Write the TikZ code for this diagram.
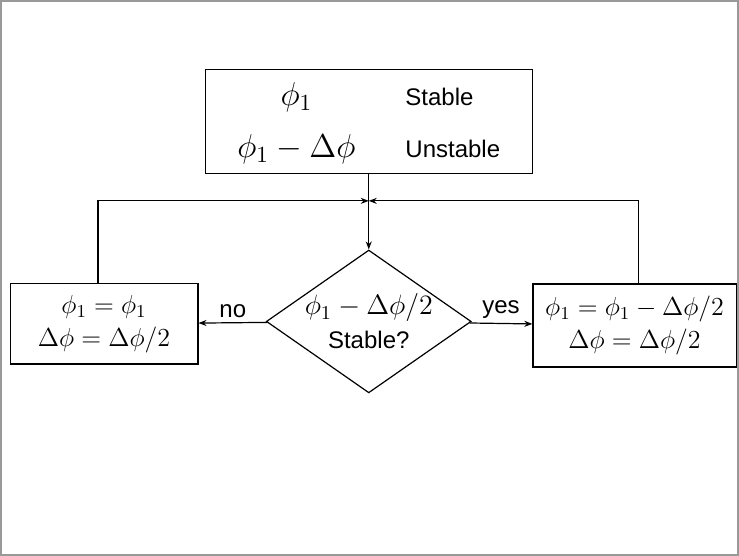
\RequirePackage{fix-cm}
\documentclass[tikz,border=0pt]{standalone}
\usepackage{fontspec}
\setsansfont{Liberation Sans}
\usepackage{amsmath}
\usetikzlibrary{arrows.meta, shapes.geometric}

\begin{document}
\begin{tikzpicture}[>={Stealth[length=4pt,width=3pt]}, line width=0.6pt,
  box/.style={draw, inner sep=0pt, align=center,
              font=\fontsize{13}{16.5}\selectfont},
  test/.style={draw, diamond, inner sep=-10pt, align=center,
               minimum width=3.6cm, minimum height=2.51cm,
               font=\fontsize{14}{17}\selectfont},
  lbl/.style={font=\fontsize{12}{14}\sffamily, inner sep=2pt}]
  \useasboundingbox (0,0) rectangle (12.986,9.770);
  \draw[black!40, line width=1pt] (0.018,0.018) rectangle (12.968,9.752);

  \node[box, minimum width=5.75cm, minimum height=1.81cm,
        font=\fontsize{16.5}{18.5}\selectfont] (top) at (6.48, 7.635)
    {\renewcommand{\arraystretch}{1.4}%
     \begin{tabular}{c@{\hspace{25pt}}l}
       $\phi_1$ & {\fontsize{12}{14}\sffamily Stable}\\
       $\phi_1 - \Delta\phi$ & {\fontsize{12}{14}\sffamily Unstable}
     \end{tabular}};
  \node[test] (chk) at (6.48, 4.121)
    {$\phi_1 - \Delta\phi/2$\\ {\fontsize{12}{14}\sffamily Stable?}};
  \node[box, minimum width=3.30cm, minimum height=1.41cm] (keep) at (1.828, 4.077)
    {$\phi_1 = \phi_1$\\ $\Delta\phi = \Delta\phi/2$};
  \node[box, minimum width=3.57cm, minimum height=1.46cm] (move) at (11.15, 4.050)
    {$\phi_1 = \phi_1 - \Delta\phi/2$\\ $\Delta\phi = \Delta\phi/2$};
  \coordinate (join) at (6.48, 6.24);

  \draw[->] (top) -- (chk);
  \draw[->] (chk) -- node[lbl, above] (no) {no} (keep);
  \draw[->] (chk) -- node[lbl, above] (yes) {yes} (move);
  \draw[->] ([xshift=-3pt]keep.north) |- (join);
  \draw[->] ([xshift=2pt]move.north) |- (join);
\end{tikzpicture}
\end{document}
